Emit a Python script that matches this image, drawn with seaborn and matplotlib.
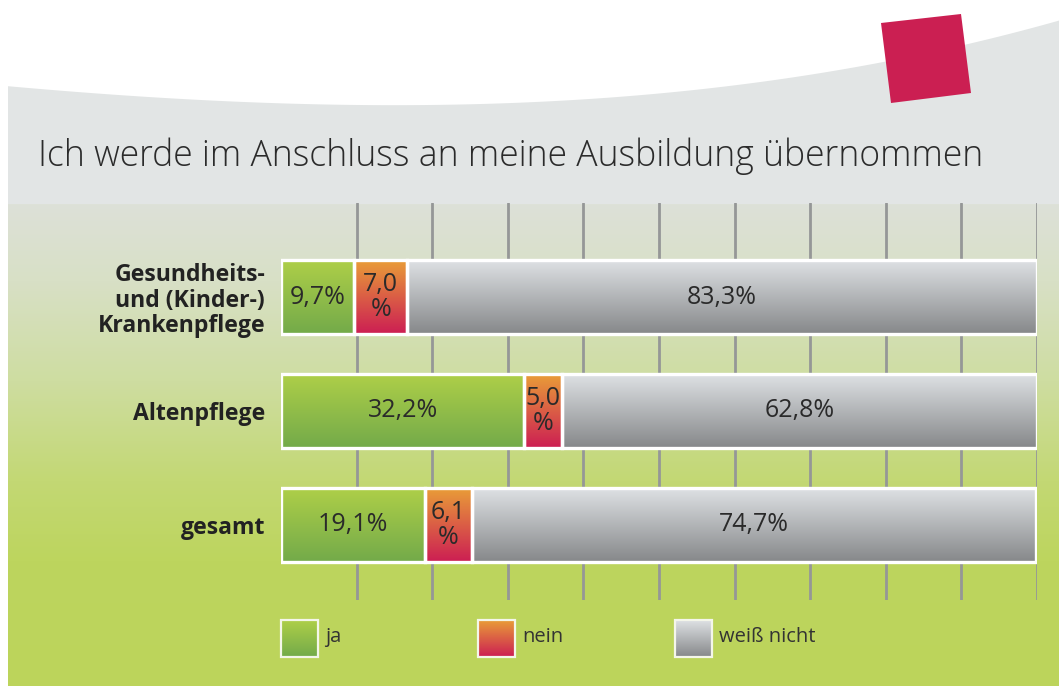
import numpy as np
import matplotlib
matplotlib.use("Agg")
import matplotlib.pyplot as plt
import seaborn as sns
from matplotlib.colors import to_rgb
from matplotlib.patches import Polygon, Rectangle

# ---- data ----
categories = ["Gesundheits-\nund (Kinder-)\nKrankenpflege", "Altenpflege", "gesamt"]
ja = [9.7, 32.2, 19.1]
nein = [7.0, 5.0, 6.1]
weiss_nicht = [83.3, 62.8, 74.7]
series_names = ["ja", "nein", "weiß nicht"]
title = "Ich werde im Anschluss an meine Ausbildung übernommen"

# ---- styling ----
sns.set_theme(style="white")
plt.rcParams["font.family"] = ["Open Sans", "DejaVu Sans"]

grad_colors = {
    "ja": ("#AECF48", "#73AA4A"),
    "nein": ("#E99D38", "#CC1E53"),
    "weiß nicht": ("#DEE1E4", "#86888A"),
}
text_col = "#2A2A2A"


def vgrad(top, bottom, n=128):
    t = np.linspace(0, 1, n)[:, None]
    c = (1 - t) * np.array(to_rgb(top)) + t * np.array(to_rgb(bottom))
    return c[:, None, :]


W, H = 1059, 686
fig = plt.figure(figsize=(W / 100, H / 100), dpi=100)
fig.patch.set_facecolor("white")

# ---- decorative background (pixel coordinates) ----
bg = fig.add_axes([0, 0, 1, 1], zorder=0)
bg.axis("off")

cx = np.array([8, 100, 200, 300, 400, 500, 600, 700, 800, 840, 900, 970, 1059])
cy = np.array([86, 94, 100, 104, 105, 103, 98, 90, 77, 70, 58, 43, 21])
xs = np.linspace(8, W, 300)
ys = np.polyval(np.polyfit(cx, cy, 4), xs)
panel = Polygon(np.column_stack([np.r_[xs, W, 8], np.r_[ys, H, H]]),
                closed=True, facecolor="none", edgecolor="none")
bg.add_patch(panel)

stop_y = [0, 203, 204, 280, 380, 480, 560, 686]
stop_c = ["#E2E5E5", "#E2E5E5", "#DDE1D8", "#D8E0C6", "#CEDDA1",
          "#C3D874", "#BDD55E", "#BCD45B"]
rows = np.arange(H)
rgb = np.array([to_rgb(c) for c in stop_c])
panel_img = np.stack([np.interp(rows, stop_y, rgb[:, k]) for k in range(3)], axis=1)
im = bg.imshow(panel_img[:, None, :], extent=[8, W, H, 0], aspect="auto",
               origin="upper", zorder=1)
im.set_clip_path(panel)

bg.add_patch(Polygon([(881, 23), (961, 14), (971, 93), (891, 103)],
                     closed=True, facecolor="#CB1F52", edgecolor="none", zorder=2))

bg.text(38, 166, title, fontsize=25.6, fontweight="light", color="#2B2B2B",
        ha="left", va="baseline", zorder=3)

# legend swatches
legend_x = [281, 478, 675]
for lx, name in zip(legend_x, series_names):
    top, bot = grad_colors[name]
    bg.imshow(vgrad(top, bot), extent=[lx, lx + 37, 657, 620], aspect="auto",
              origin="upper", zorder=3)
    bg.add_patch(Rectangle((lx, 620), 37, 37, facecolor="none",
                           edgecolor="#F4F6EA", linewidth=1.6, zorder=4))
    bg.text(lx + 44, 637, name, fontsize=14.5, color="#333333",
            ha="left", va="center", zorder=4)

bg.set_xlim(0, W)
bg.set_ylim(H, 0)

# ---- chart axes ----
ax = fig.add_axes([281 / W, 1 - 600 / H, 756 / W, 397 / H], zorder=1)
ax.set_facecolor("none")

lefts = np.zeros(len(categories))
for name, vals in zip(series_names, [ja, nein, weiss_nicht]):
    n0 = len(ax.patches)
    sns.barplot(x=vals, y=categories, order=categories, orient="h", width=0.645,
                left=lefts, color=grad_colors[name][0], edgecolor="white",
                linewidth=2.4, errorbar=None, ax=ax)
    top, bot = grad_colors[name]
    for p, v in zip(ax.patches[n0:], vals):
        x0, y0, w, h = p.get_x(), p.get_y(), p.get_width(), p.get_height()
        ax.imshow(vgrad(top, bot), extent=[x0, x0 + w, y0 + h, y0],
                  aspect="auto", origin="upper", zorder=2)
        p.set_facecolor("none")
        p.set_zorder(3)
        txt = f"{v:.1f}".replace(".", ",")
        label = f"{txt}\n%" if v < 9 else f"{txt}%"
        ax.text(x0 + w / 2, y0 + h / 2, label, ha="center", va="center",
                fontsize=18, color=text_col, linespacing=1.0, zorder=4)
    lefts = lefts + np.array(vals)

ax.set_xlim(0, 100)
ax.set_ylim(2.658, -0.8246)
ax.set_xticks(np.arange(10, 101, 10))
ax.set_xticklabels([])
ax.xaxis.grid(True, color="#959797", linewidth=2)
ax.yaxis.grid(False)
ax.set_axisbelow(True)
ax.tick_params(axis="both", length=0)
ax.tick_params(axis="y", pad=11.5)
for lab in ax.get_yticklabels():
    lab.set_fontweight("bold")
    lab.set_fontsize(16.6)
    lab.set_color("#222222")
    lab.set_linespacing(1.08)
ax.set_xlabel("")
ax.set_ylabel("")
for s in ax.spines.values():
    s.set_visible(False)

fig.savefig("out.png", dpi=100)
